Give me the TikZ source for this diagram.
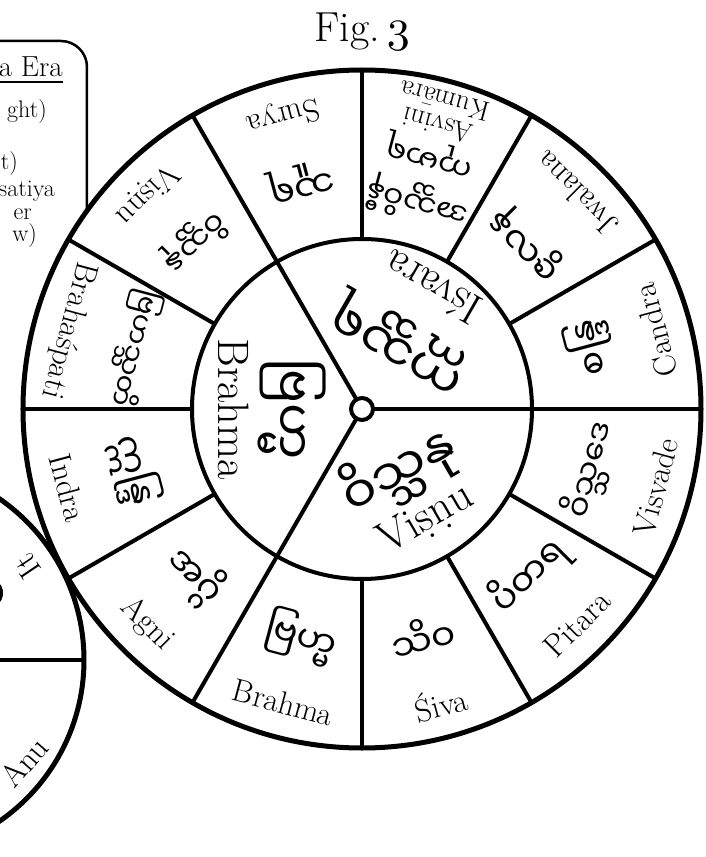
\documentclass[tikz,border=0pt]{standalone}
\usepackage{fontspec}
\usepackage{graphicx}
\newfontfamily\mymr[Script=Myanmar]{Noto Sans Myanmar UI}

\newcommand*{\wheelR}{339}
\newcommand*{\ringR}{170}
\newcommand*{\hubR}{11}
\newcommand*{\oldthree}{\scalebox{4.6}{\fontencoding{OML}\fontfamily{cmm}\fontseries{m}\fontshape{it}\fontsize{10}{12}\selectfont 3}}

\begin{document}
\begin{tikzpicture}
[
	x=1pt,y=1pt,
	rim/.style={line width=5pt},
	spoke/.style={line width=4pt},
	boxline/.style={line width=2.5pt,rounded corners=26pt},
	latout/.style={font=\fontsize{32}{31}\selectfont,inner sep=0pt,align=center},
	latin/.style={font=\fontsize{44}{46}\selectfont,inner sep=0pt},
	burout/.style={inner sep=0pt,align=center},
	burin/.style={font=\mymr\fontsize{50}{54}\selectfont,inner sep=0pt},
	side/.style={font=\fontsize{24}{26}\selectfont,inner sep=0pt,anchor=base east}
]
	\clip (-362,-448) rectangle (344,409);

	% title
	\node[font=\fontsize{42}{44}\selectfont,anchor=base] (title) at (0,367) {Fig.\,\oldthree};

	% table of the era (cut off)
	\draw[boxline] (-420,368) -- (-275,368) -- (-275,100);
	\node[font=\fontsize{29}{30}\selectfont,anchor=base east,inner sep=0pt] (era) at (-299,332) {a Era};
	\draw[line width=1.3pt] (-370,327) -- (-299,327);
	\node[side] (ght) at (-315,291) {ght)};
	\node[side] (lt) at (-344,239) {t)};
	\node[side] (sat) at (-307,212) {satiya};
	\node[side] (er) at (-330,189) {er};
	\node[side] (ow) at (-325,167) {w)};

	% second wheel (cut off)
	\draw[rim,fill=white] (-474,-251) coordinate (hub2) circle (196);
	\draw[spoke] (hub2) -- ++(196,0);
	\node[latout,rotate=124] (it) at (-335,-157) {It};
	\node[latout,rotate=49] (anu) at (-338,-353) {Anu};
	\draw[line width=4pt] (-375,-184) circle (14);

	% wheel
	\draw[rim,fill=white] (0,0) circle (\wheelR);
	\draw[spoke] (0,0) circle (\ringR);
	\foreach \a in {0,120,240} {
		\draw[spoke] (\a:\hubR) -- (\a:\wheelR);
	}
	\foreach \a in {30,60,90,150,180,210,270,300,330} {
		\draw[spoke] (\a:\ringR) -- (\a:\wheelR);
	}
	\draw[spoke,fill=white] (0,0) circle (\hubR);

	% outer names
	\foreach \a/\bs/\bm/\lt in {15/36/{စန္ဒြ}/Candra, 45/36/{ဇွလန}/Jwalana,
		105/36/{သူရ}/Surya, 135/30/{ဝိသ္သနု}/Viṣṇu, 165/28/{ဗြဟသ္သတိ}/Brahaśpati,
		195/36/{ဣန္ဒြ}/Indra, 225/36/{အဂ္ဂိ}/Agni, 255/36/{ဗြဟ္မ}/Brahma,
		285/36/{သိဝ}/Śiva, 315/36/{ပိတရ}/Pitara, 345/32/{ဝိသ္သဒေ}/Visvade} {
		\node[burout,font=\mymr\fontsize{\bs}{\bs}\selectfont,rotate=\a+90] (b\a) at (\a:236) {\bm};
		\node[latout,rotate=\a+90] (l\a) at (\a:304) {\lt};
	}
	\node[burout,font=\mymr\fontsize{30}{44}\selectfont,rotate=165] (b75) at (75:236) {အသ္သဝိနီ\\ကုမာရ};
	\node[latout,font=\fontsize{28}{25}\selectfont,rotate=165] (l75) at (75:306) {Asvini\\Kumāra};

	% inner names
	\node[burin,rotate=150] (bisv) at (60:78) {ဣသ္သရ};
	\node[latin,rotate=150] (lisv) at (60:140) {Iśvara};
	\node[burin,rotate=270] (bbra) at (180:70) {ဗြဟ္မ};
	\node[latin,rotate=270] (lbra) at (180:128) {Brahma};
	\node[burin,rotate=30] (bvis) at (300:72) {ဝိသ္သနု};
	\node[latin,rotate=30] (lvis) at (300:128) {Viṣṇu};

\end{tikzpicture}
\end{document}
